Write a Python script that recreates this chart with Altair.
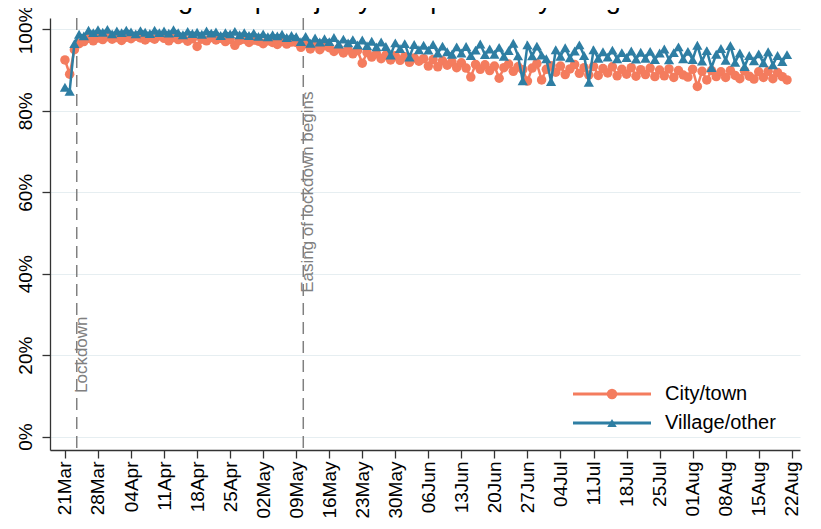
import altair as alt
import pandas as pd

title_text = "Figure 2p Majority compliance by living area"
series_names = ["City/town", "Village/other"]
series_colors = ["#F47C5E", "#2E7EA3"]
series_shapes = ["circle", "triangle-up"]

start_date = "2020-03-21"
# daily values, 21 Mar - 21 Aug 2020 (one row = one week)
city = [
    92.5, 89.0, 95.0, 96.5, 97.0, 97.8, 97.2,
    97.9, 97.5, 98.2, 97.6, 98.0, 97.3, 98.1,
    97.7, 98.3, 97.9, 97.4, 98.0, 97.6, 98.4,
    97.8, 97.2, 98.0, 97.5, 97.9, 97.1, 97.7,
    95.8, 97.6, 97.2, 98.0, 97.4, 97.8, 97.0,
    97.5, 96.1, 97.3, 97.6, 96.8, 97.4, 97.1,
    96.5, 97.2, 96.8, 96.3, 97.0, 96.4, 96.9,
    96.8, 95.6, 96.5, 95.2, 96.3, 95.0, 96.0,
    95.5, 94.6, 95.3, 94.2, 95.0, 94.0, 94.8,
    91.7, 94.3, 93.2, 94.0, 92.8, 93.7, 92.5,
    93.5, 92.4, 93.3, 91.9, 93.0, 92.2, 92.8,
    91.0, 92.6, 90.8, 92.3, 91.2, 92.0, 90.6,
    91.8, 90.5, 88.3, 91.4, 90.2, 91.3, 89.9,
    91.0, 88.0, 90.6, 91.5, 89.7, 90.8, 90.1,
    87.3, 90.5, 91.6, 87.6, 90.2, 91.1, 89.5,
    91.0, 88.9, 90.3, 91.4, 89.2, 90.6, 88.8,
    90.9, 88.7, 90.4, 89.3, 90.8, 88.6, 90.2,
    89.0, 90.6, 88.5, 90.1, 88.9, 90.5, 88.4,
    90.0, 88.6, 90.3, 88.2, 89.9, 88.8, 88.3,
    90.2, 86.0, 89.7, 87.6, 89.9, 88.4, 89.6,
    88.2, 89.9, 88.7, 87.9, 89.8, 88.5, 87.8,
    89.6, 88.2, 89.7, 87.9, 89.4, 88.4, 87.6,
]
village = [
    85.8, 84.8, 96.5, 98.8, 98.4, 99.8, 99.2,
    99.9, 99.3, 100.0, 98.9, 99.6, 99.2, 99.8,
    99.4, 98.9, 99.7, 99.3, 99.0, 99.8, 99.2,
    99.6, 99.1, 99.9, 99.2, 98.7, 99.5, 99.0,
    99.3, 98.8, 99.6, 99.1, 99.4, 98.5, 99.2,
    98.9, 99.5, 98.7, 99.2, 98.5, 99.1, 98.3,
    98.9, 98.2, 98.7, 98.4, 98.8, 98.0, 98.5,
    98.2, 97.0, 98.3, 96.6, 97.9, 96.9, 97.7,
    97.0, 98.0, 96.4, 97.6, 96.7, 97.5, 96.2,
    97.4, 96.0, 97.1, 95.7, 96.9, 95.8, 93.7,
    96.7, 95.3, 96.5, 93.2, 96.3, 95.0, 96.1,
    94.9, 96.3, 94.2, 95.9, 94.5, 93.9, 95.7,
    94.2, 95.8, 93.6, 94.9, 96.4, 93.8, 95.2,
    93.9, 95.6, 93.4, 94.8, 96.6, 93.5, 87.4,
    96.2, 93.5, 95.9, 93.7, 92.8, 87.2, 95.0,
    93.4, 95.5, 93.0, 94.7, 96.2, 93.6, 87.0,
    95.0, 92.9, 94.5, 93.2, 94.9, 92.8, 94.3,
    93.1, 94.7, 92.7, 94.4, 92.9, 94.6, 92.6,
    94.2, 95.2, 92.5, 94.3, 95.7, 92.8, 94.6,
    92.6, 96.1, 92.2, 94.8, 90.6, 93.9, 95.3,
    92.4, 96.0, 91.9, 94.2, 90.9, 93.6, 92.3,
    94.0, 91.8, 94.5, 91.3, 93.6, 92.1, 93.8,
]
y_ticks = [0, 20, 40, 60, 80, 100]
event_dates = ["2020-03-23 12:00", "2020-05-10 12:00"]
event_labels = ["Lockdown", "Easing of lockdown begins"]
event_label_y = [10.7, 35.3]

dates = pd.date_range(start_date, periods=len(city), freq="D")
tick_dates = pd.date_range("2020-03-21", "2020-08-22", freq="7D")

df = pd.DataFrame({
    "date": list(dates) * 2,
    "value": city + village,
    "series": [series_names[0]] * len(city) + [series_names[1]] * len(village),
})
ev = pd.DataFrame({"date": pd.to_datetime(event_dates), "label": event_labels, "ly": event_label_y})

def dt(ts, hours=0):
    return alt.DateTime(year=ts.year, month=ts.month, date=ts.day, hours=hours)

FONT = "Liberation Sans"
AX = "#333333"

xscale = alt.Scale(domain=[alt.DateTime(year=2020, month=3, date=17, hours=20),
                           alt.DateTime(year=2020, month=8, date=23, hours=18)])
yscale = alt.Scale(domain=[-3.3, 102.8], nice=False, zero=False)

xaxis = alt.Axis(values=[dt(t) for t in tick_dates],
                 labelExpr="timeFormat(datum.value, '%d%b')",
                 labelAngle=270, labelAlign="right", labelBaseline="middle",
                 labelFontSize=19, labelFont=FONT, labelColor="#000000",
                 labelPadding=3, labelOverlap=False, labelFlush=False,
                 tickSize=8, tickColor=AX, domainColor=AX, tickWidth=1.3, domainWidth=1.3,
                 grid=False, title=None)
yaxis = alt.Axis(values=y_ticks, labelExpr="datum.value + '%'",
                 labelAngle=270, labelAlign="center", labelBaseline="bottom",
                 labelFontSize=19, labelFont=FONT, labelColor="#000000",
                 labelPadding=7, labelOverlap=False, labelFlush=False,
                 tickSize=8, tickColor=AX, domainColor=AX, tickWidth=1.3, domainWidth=1.3,
                 grid=True, gridColor="#E6EEF1", gridWidth=1.2, title=None)

xenc = alt.X("date:T", scale=xscale, axis=xaxis)
yenc = alt.Y("value:Q", scale=yscale, axis=yaxis)

layers = []
# event dashed lines
layers.append(alt.Chart(ev).mark_rule(color="#808080", strokeWidth=1.5, strokeDash=[12, 7])
              .encode(x=xenc))
layers.append(alt.Chart(ev).mark_text(angle=270, align="left", baseline="middle", dy=5,
                                      fontSize=17, font=FONT, color="#808080")
              .encode(x=xenc, y=alt.Y("ly:Q", scale=yscale, axis=yaxis), text="label:N"))

base = alt.Chart(df).encode(x=xenc, y=yenc)
for name, color, shape in zip(series_names, series_colors, series_shapes):
    sub = base.transform_filter(alt.datum.series == name)
    layers.append(sub.mark_line(color=color, strokeWidth=2.5))
    layers.append(sub.mark_point(shape=shape, filled=True, color=color, opacity=1,
                                 size=90 if shape == "circle" else 105))

# manual legend (bottom right inside plot)
leg_rows = [376, 405]
for name, color, shape, ly in zip(series_names, series_colors, series_shapes, leg_rows):
    ldf = pd.DataFrame({"series": [name]})
    layers.append(alt.Chart(ldf).mark_rule(color=color, strokeWidth=3)
                  .encode(x=alt.value(523), x2=alt.value(601), y=alt.value(ly)))
    layers.append(alt.Chart(ldf).mark_point(shape=shape, filled=True, color=color, opacity=1,
                                            size=110 if shape == "circle" else 90)
                  .encode(x=alt.value(562), y=alt.value(ly)))
    layers.append(alt.Chart(ldf).mark_text(align="left", baseline="middle", fontSize=20,
                                           font=FONT, color="#000000")
                  .encode(x=alt.value(615), y=alt.value(ly), text="series:N"))

# title (cropped at top in reference)
tdf = pd.DataFrame({"t": [title_text]})
layers.append(alt.Chart(tdf).mark_text(align="center", baseline="alphabetic", fontSize=27,
                                       font=FONT, color="#000000")
              .encode(x=alt.value(369), y=alt.value(-10), text="t:N"))

chart = alt.layer(*layers).properties(
    width=750, height=432,
    autosize=alt.AutoSizeParams(type="none"),
    padding={"left": 42, "top": 10, "right": 13, "bottom": 71},
    background="white",
).configure_view(stroke=None)

chart.save("out.html", embed_options={"renderer": "svg", "actions": False})
